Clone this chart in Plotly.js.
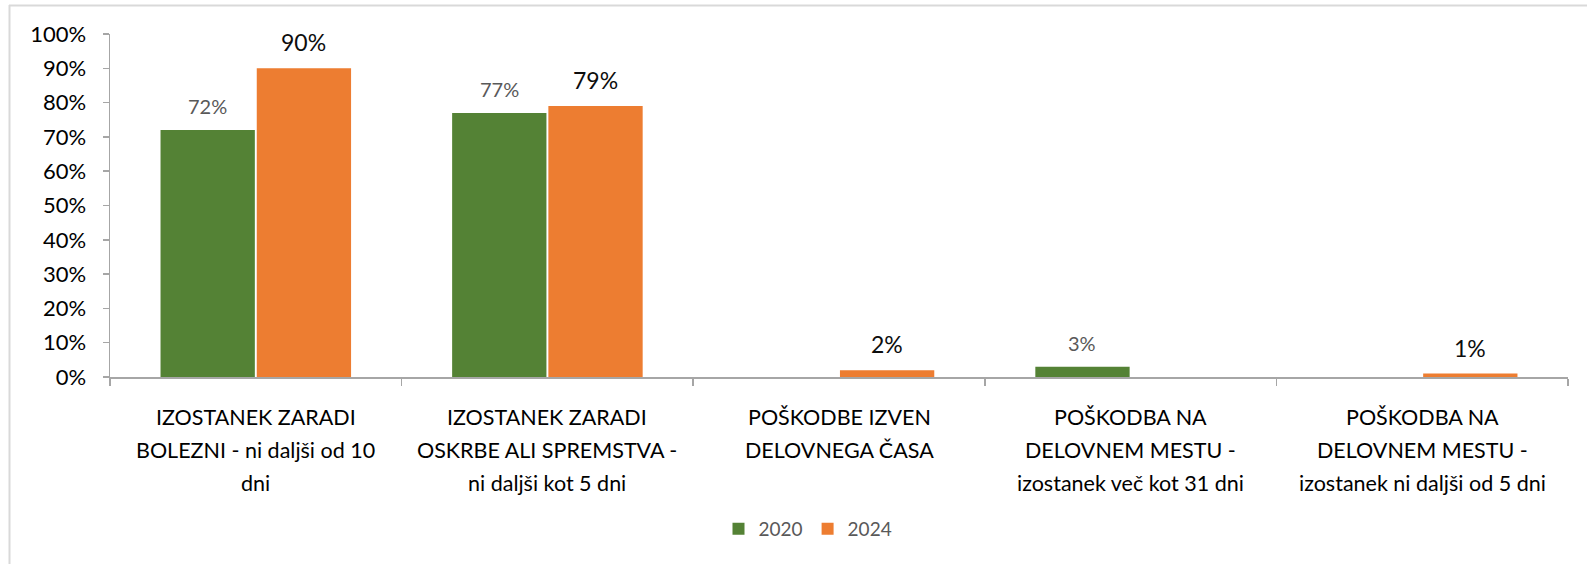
<!DOCTYPE html>
<html>
<head>
<meta charset="utf-8">
<script src="https://cdn.plot.ly/plotly-3.0.1.min.js"></script>
<style>
  html, body { margin: 0; padding: 0; background: #fff; }
  #chart { width: 1587px; height: 564px; }
</style>
</head>
<body>
<div id="chart"></div>
<script>
const categories = [
  "IZOSTANEK ZARADI<br>BOLEZNI - ni daljši od 10<br>dni",
  "IZOSTANEK ZARADI<br>OSKRBE ALI SPREMSTVA -<br>ni daljši kot 5 dni",
  "POŠKODBE IZVEN<br>DELOVNEGA ČASA",
  "POŠKODBA NA<br>DELOVNEM MESTU -<br>izostanek več kot 31 dni",
  "POŠKODBA NA<br>DELOVNEM MESTU -<br>izostanek ni daljši od 5 dni"
];
const seriesNames = ["2020", "2024"];
const values2020 = [72, 77, null, 3, null];
const values2024 = [90, 79, 2, null, 1];
const yTickValues = [0, 10, 20, 30, 40, 50, 60, 70, 80, 90, 100];

const FONT = "Lato, 'Open Sans', sans-serif";

const L = 110, R = 1568, T = 34, B = 377;
const pw = R - L, ph = B - T;
const px = x => (x - L) / pw;
const py = y => (B - y) / ph;
const BARGAP = 0.34;
const slot = (pw / categories.length) * (1 - BARGAP) / 2;

const traces = [
  { type: "bar", name: seriesNames[0], x: categories, y: values2020,
    marker: { color: "#548235" }, hoverinfo: "skip" },
  { type: "bar", name: seriesNames[1], x: categories, y: values2024,
    marker: { color: "#ED7D31" }, hoverinfo: "skip" }
];

const annotations = [];
// data labels
[[values2020, -1, 20, "#595959"], [values2024, 1, 23, "#0D0D0D"]].forEach(([vals, side, size, color]) => {
  vals.forEach((v, i) => {
    if (v === null) return;
    annotations.push({
      x: categories[i], y: v, xref: "x", yref: "y",
      text: v + "%", showarrow: false,
      xshift: side * slot / 2, yshift: 10, yanchor: "bottom", xanchor: "center",
      font: { family: FONT, size: size, color: color }
    });
  });
});
// category labels, one annotation per line
const lineY = [417, 450, 483];
categories.forEach(c => {
  c.split("<br>").forEach((line, j) => {
    annotations.push({
      x: c, y: py(lineY[j]), xref: "x", yref: "paper",
      text: line, showarrow: false, xanchor: "center", yanchor: "middle",
      font: { family: FONT, size: 21.5, color: "#000000" }
    });
  });
});

const layout = {
  width: 1587, height: 564,
  margin: { l: L, r: 1587 - R, t: T, b: 564 - B, pad: 0 },
  paper_bgcolor: "#ffffff", plot_bgcolor: "#ffffff",
  font: { family: FONT, color: "#000000" },
  barmode: "group", bargap: BARGAP, bargroupgap: 0.02,
  showlegend: true,
  legend: {
    orientation: "h", x: px(808), xanchor: "center", y: py(529), yanchor: "middle",
    font: { family: FONT, size: 19, color: "#595959" },
    traceorder: "normal"
  },
  xaxis: {
    type: "category",
    showline: true, linecolor: "#A6A6A6", linewidth: 1.5,
    ticks: "outside", tickson: "boundaries", ticklen: 7, tickcolor: "#A6A6A6", tickwidth: 1.5,
    showticklabels: false,
    showgrid: false, zeroline: false, fixedrange: true
  },
  yaxis: {
    range: [0, 100], tickvals: yTickValues, ticktext: yTickValues.map(v => v + "%"),
    showline: true, linecolor: "#A6A6A6", linewidth: 1.5,
    ticks: "outside", ticklen: 6, tickcolor: "#A6A6A6", tickwidth: 1.5,
    ticklabelstandoff: 12,
    tickfont: { family: FONT, size: 22, color: "#000000" },
    showgrid: false, zeroline: false, fixedrange: true
  },
  annotations: annotations,
  shapes: [
    { type: "line", xref: "paper", yref: "paper", x0: px(9), x1: px(1600), y0: py(5.5), y1: py(5.5),
      line: { color: "#D9D9D9", width: 2 } },
    { type: "line", xref: "paper", yref: "paper", x0: px(9.5), x1: px(9.5), y0: py(5), y1: py(600),
      line: { color: "#D9D9D9", width: 2 } }
  ]
};

Plotly.newPlot("chart", traces, layout, { displayModeBar: false, staticPlot: true });
</script>
</body>
</html>
